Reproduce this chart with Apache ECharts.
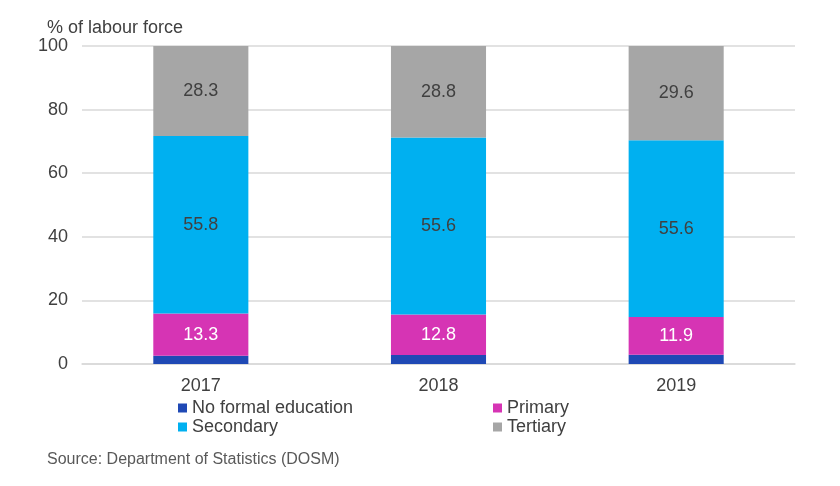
<!DOCTYPE html>
<html>
<head>
<meta charset="utf-8">
<script src="https://cdn.jsdelivr.net/npm/echarts@6/dist/echarts.min.js"></script>
<style>
html, body { margin: 0; padding: 0; background: #fff; }
#main { width: 840px; height: 486px; }
</style>
</head>
<body>
<div id="main"></div>
<script>
var years = ['2017', '2018', '2019'];
var noFormal = [2.6, 2.8, 2.9];
var primary = [13.3, 12.8, 11.9];
var secondary = [55.8, 55.6, 55.6];
var tertiary = [28.3, 28.8, 29.6];

var font = 'Liberation Sans, Arial, sans-serif';

function bar(name, data, color, labelColor) {
    return {
        name: name,
        type: 'bar',
        stack: 'total',
        barWidth: '40%',
        data: data,
        itemStyle: { color: color },
        label: {
            show: labelColor != null,
            position: 'inside',
            color: labelColor,
            fontSize: 18,
            fontFamily: font,
            formatter: function (p) { return p.value.toFixed(1); }
        },
        emphasis: { disabled: true }
    };
}

echarts.init(document.getElementById('main')).setOption({
    animation: false,
    textStyle: { fontFamily: font },
    title: [{
        text: '% of labour force',
        left: 47, top: 19, padding: 0,
        textStyle: { fontSize: 18, fontWeight: 'normal', color: '#404040', fontFamily: font }
    }, {
        text: 'Source: Department of Statistics (DOSM)',
        left: 47, top: 452, padding: 0,
        textStyle: { fontSize: 16, fontWeight: 'normal', color: '#595959', fontFamily: font }
    }],
    grid: { left: 82, right: 45, top: 46, bottom: 122 },
    legend: [{
        data: ['No formal education', 'Secondary'],
        orient: 'vertical',
        left: 178, top: 399, padding: 0,
        itemWidth: 9, itemHeight: 9, itemGap: 1,
        icon: 'rect',
        textStyle: { fontSize: 18, color: '#404040' }
    }, {
        data: ['Primary', 'Tertiary'],
        orient: 'vertical',
        left: 493, top: 399, padding: 0,
        itemWidth: 9, itemHeight: 9, itemGap: 1,
        icon: 'rect',
        textStyle: { fontSize: 18, color: '#404040' }
    }],
    xAxis: {
        type: 'category',
        data: years,
        axisLine: { lineStyle: { color: '#d9d9d9', width: 1.5 } },
        axisTick: { show: false },
        axisLabel: { fontSize: 18, color: '#404040', margin: 13 }
    },
    yAxis: {
        type: 'value',
        min: 0, max: 100, interval: 20,
        axisLine: { show: false },
        axisTick: { show: false },
        splitLine: { lineStyle: { color: '#d9d9d9', width: 1.5 } },
        axisLabel: { fontSize: 18, color: '#404040', margin: 14 }
    },
    series: [
        bar('No formal education', noFormal, '#1f49b5', null),
        bar('Primary', primary, '#d634b4', '#ffffff'),
        bar('Secondary', secondary, '#00b0f0', '#404040'),
        bar('Tertiary', tertiary, '#a6a6a6', '#404040')
    ]
});
</script>
</body>
</html>
